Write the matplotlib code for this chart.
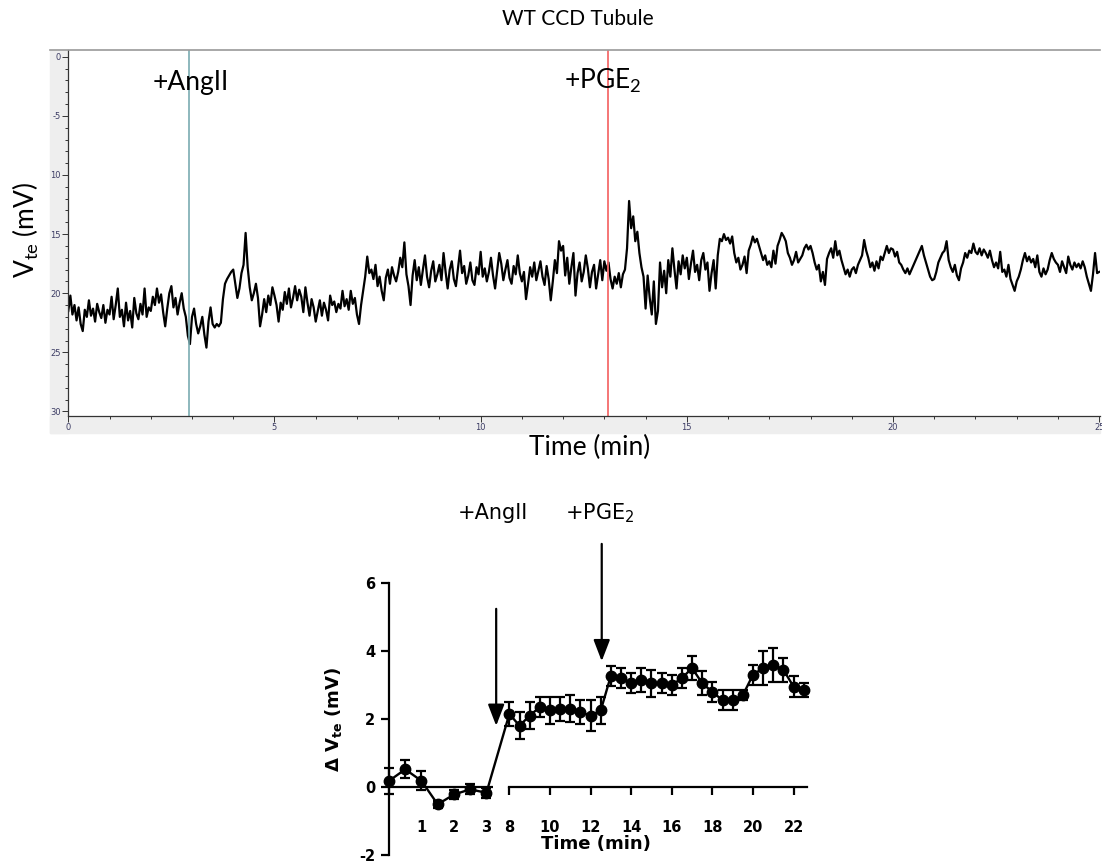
import numpy as np
import matplotlib.pyplot as plt
from matplotlib.lines import Line2D
from matplotlib.patches import Rectangle
from matplotlib.ticker import MultipleLocator

plt.rcParams['mathtext.default'] = 'regular'
plt.rcParams['axes.unicode_minus'] = False

W, H = 1102, 863

# ---- top trace: Vte (mV), 20 samples per minute ----
trace_mv = [
    21.5, 20.2, 21.8, 21.0, 22.3, 21.2, 22.6, 23.2, 21.4, 22.0, 20.6, 21.9, 21.3, 22.4, 20.9, 21.6, 22.1, 21.0, 22.5, 21.4,
    21.8, 20.3, 22.2, 21.0, 19.6, 22.0, 21.4, 22.8, 20.8, 22.3, 21.5, 22.9, 20.4, 21.7, 22.2, 20.9, 21.8, 19.6, 22.0, 21.2,
    21.5, 20.3, 21.0, 19.6, 20.8, 20.1, 21.6, 22.8, 21.3, 20.0, 19.4, 21.2, 20.4, 21.8, 20.8, 20.0, 21.3, 22.0, 23.6, 24.3,
    22.0, 21.3, 22.6, 23.4, 22.8, 22.0, 23.5, 24.6, 22.4, 21.2, 22.6, 22.9, 22.6, 22.8, 22.5, 20.5, 19.2, 18.8, 18.5, 18.2,
    18.0, 19.2, 20.4, 19.6, 18.3, 17.6, 14.9, 17.8, 19.5, 20.6, 20.0, 19.2, 20.4, 22.8, 21.8, 20.5, 21.6, 20.2, 21.0, 19.5,
    20.2, 21.0, 22.4, 20.8, 21.4, 19.9, 20.9, 19.6, 21.2, 20.4, 19.4, 20.6, 19.7, 20.3, 21.6, 19.5, 20.8, 21.9, 20.5, 21.2,
    22.4, 21.5, 20.6, 21.9, 20.8, 21.4, 22.3, 20.2, 21.0, 20.7, 21.6, 20.9, 21.3, 19.8, 21.1, 20.5, 21.4, 19.8, 20.9, 20.4,
    21.8, 22.6, 21.0, 19.8, 18.6, 16.9, 18.3, 18.0, 18.8, 17.6, 19.4, 18.6, 19.8, 20.6, 18.7, 18.0, 19.2, 17.8, 18.5, 19.0,
    18.2, 17.0, 17.8, 15.7, 18.4, 19.4, 21.0, 18.5, 17.2, 18.9, 17.8, 19.3, 18.0, 16.8, 18.6, 19.5, 18.1, 17.3, 19.0, 18.4,
    17.6, 18.9, 16.6, 18.2, 19.6, 18.0, 17.3, 18.8, 19.4, 17.9, 16.4, 18.3, 17.7, 19.2, 18.5, 17.4, 18.9, 19.3, 17.8, 18.4,
    16.5, 18.6, 17.9, 19.0, 18.2, 17.0, 18.5, 19.6, 18.1, 16.6, 17.5, 18.9, 18.0, 17.2, 18.7, 19.2, 17.7, 18.4, 16.8, 18.3,
    19.0, 18.2, 20.5, 19.2, 17.8, 18.6, 17.4, 18.9, 18.1, 17.3, 18.6, 19.3, 17.7, 18.8, 20.6, 19.0, 17.2, 18.3, 15.6, 16.4,
    16.0, 18.5, 17.0, 19.2, 17.8, 16.6, 20.2, 18.3, 17.4, 19.0, 18.2, 16.8, 17.9, 19.5, 18.2, 17.6, 19.6, 18.4, 17.2, 18.9,
    17.3, 18.1, 17.4, 18.8, 19.6, 18.6, 19.2, 18.3, 19.5, 18.4, 18.0, 16.2, 12.2, 14.5, 13.5, 15.6, 14.8, 16.6, 17.8, 18.6,
    21.3, 18.5, 20.4, 21.8, 19.0, 22.6, 21.5, 17.4, 19.5, 18.1, 20.0, 17.2, 18.6, 16.2, 18.0, 19.6, 17.3, 18.4, 16.8, 17.9,
    17.0, 18.8, 17.5, 16.4, 18.2, 17.6, 18.9, 17.2, 16.6, 18.0, 17.4, 19.8, 18.3, 17.2, 19.6, 16.8, 15.4, 15.6, 15.0, 15.5,
    15.3, 15.8, 15.2, 16.6, 17.4, 17.0, 18.0, 17.6, 16.9, 18.3, 16.4, 15.9, 15.2, 15.7, 15.4, 16.0, 16.6, 17.2, 16.8, 17.6,
    17.3, 17.8, 16.4, 17.5, 16.0, 15.5, 14.9, 15.2, 15.6, 16.6, 17.0, 17.6, 17.2, 16.5, 17.4, 17.1, 16.8, 16.2, 15.9, 16.3,
    16.0, 16.6, 17.4, 18.0, 17.6, 19.0, 18.2, 19.3, 17.1, 16.6, 16.2, 17.0, 15.6, 16.8, 16.4, 17.2, 17.8, 18.4, 18.0, 18.6,
    18.0, 17.8, 18.3, 17.6, 17.2, 16.8, 15.5, 16.4, 17.0, 17.8, 17.4, 18.1, 17.3, 17.9, 16.9, 17.2, 16.6, 16.0, 16.6, 16.2,
    16.3, 16.9, 16.5, 17.4, 17.6, 18.0, 18.3, 17.9, 18.4, 18.0, 17.6, 17.2, 16.8, 16.4, 16.0, 16.8, 17.4, 18.0, 18.6, 18.9,
    18.8, 18.2, 17.4, 17.0, 16.6, 16.4, 15.6, 17.2, 17.8, 18.2, 17.6, 18.5, 18.9, 17.9, 17.4, 16.6, 17.0, 16.4, 16.6, 15.8,
    16.5, 16.7, 16.2, 16.8, 16.3, 16.6, 17.0, 16.4, 17.2, 17.8, 17.4, 17.9, 16.5, 18.2, 18.0, 18.6, 17.6, 18.8, 19.3, 19.8,
    19.0, 18.6, 18.0, 17.2, 16.6, 17.3, 16.9, 17.4, 17.1, 17.8, 16.8, 18.2, 18.6, 17.9, 18.4, 18.0, 17.2, 16.6, 17.1, 17.4,
    17.6, 18.2, 17.3, 17.8, 18.3, 16.9, 17.6, 18.0, 17.4, 17.8, 17.5, 17.9, 17.3, 17.8, 18.6, 19.2, 19.8, 18.4, 16.6, 18.3,
    18.2,
]
trace_t = np.arange(len(trace_mv)) * 0.05

angii_t = 2.93
pge2_t = 13.09

top_yticks = [0, 5, 10, 15, 20, 25, 30]
top_ylabels = ['0', '-5', '10', '15', '20', '25', '30']
top_xticks = [0, 5, 10, 15, 20, 25]

# ---- bottom summary: mean delta Vte and SEM ----
sum_t = [0, 0.5, 1, 1.5, 2, 2.5, 3,
         8, 8.5, 9, 9.5, 10, 10.5, 11, 11.5, 12, 12.5,
         13, 13.5, 14, 14.5, 15, 15.5, 16, 16.5, 17, 17.5,
         18, 18.5, 19, 19.5, 20, 20.5, 21, 21.5, 22, 22.5]
sum_dv = [0.18, 0.52, 0.18, -0.51, -0.22, -0.07, -0.17,
          2.15, 1.8, 2.1, 2.35, 2.25, 2.3, 2.3, 2.2, 2.1, 2.25,
          3.27, 3.2, 3.05, 3.15, 3.05, 3.05, 3.0, 3.2, 3.5, 3.05,
          2.8, 2.55, 2.55, 2.7, 3.3, 3.5, 3.6, 3.45, 2.95, 2.85]
sum_err = [0.38, 0.26, 0.28, 0.1, 0.12, 0.15, 0.15,
           0.35, 0.4, 0.4, 0.3, 0.4, 0.35, 0.4, 0.35, 0.45, 0.4,
           0.3, 0.3, 0.3, 0.35, 0.4, 0.3, 0.3, 0.3, 0.35, 0.35,
           0.3, 0.3, 0.3, 0.15, 0.3, 0.5, 0.5, 0.35, 0.3, 0.2]
bot_xticks = [1, 2, 3, 8, 10, 12, 14, 16, 18, 20, 22]
bot_yticks = [-2, 0, 2, 4, 6]


def fwd(t):
    t = np.asarray(t, dtype=float)
    return np.where(t <= 3.3, 1.6 * t,
                    np.where(t < 8, 5.28 + (t - 3.3) * 0.65 / 4.7, 5.93 + (t - 8)))


def inv(u):
    u = np.asarray(u, dtype=float)
    return np.where(u <= 5.28, u / 1.6,
                    np.where(u < 5.93, 3.3 + (u - 5.28) * 4.7 / 0.65, 8 + (u - 5.93)))


fig = plt.figure(figsize=(W / 100, H / 100), dpi=100)

# gray tick strips of the recording software
fig.add_artist(Rectangle((50 / W, 1 - 433 / H), 1050 / W, 17.4 / H,
                         transform=fig.transFigure, color='#eeeeee', zorder=-1))
fig.add_artist(Rectangle((50 / W, 1 - 433 / H), 18.3 / W, 383 / H,
                         transform=fig.transFigure, color='#eeeeee', zorder=-1))
fig.add_artist(Line2D([50 / W, 1100 / W], [1 - 50 / H, 1 - 50 / H],
                      transform=fig.transFigure, color='#9a9a9a', lw=1.2))

ax1 = fig.add_axes([68.3 / W, 1 - 415.6 / H, (1100 - 68.3) / W, (415.6 - 50) / H])
ax1.plot(trace_t, trace_mv, color='black', lw=1.6)
ax1.axvline(angii_t, color='#7aacb2', lw=1.2)
ax1.axvline(pge2_t, color='#f46b6b', lw=1.3)
ax1.set_xlim(0, 25.02)
ax1.set_ylim(30.35, -0.57)
ax1.set_xticks(top_xticks)
ax1.set_yticks(top_yticks)
ax1.set_yticklabels(top_ylabels)
ax1.xaxis.set_minor_locator(MultipleLocator(1))
ax1.yaxis.set_minor_locator(MultipleLocator(1))
ax1.tick_params(which='both', labelsize=6, labelcolor='#3c3c64', color='#333333',
                width=0.7, pad=1.5)
ax1.tick_params(which='major', length=4)
ax1.tick_params(which='minor', length=2.5)
ax1.spines['top'].set_visible(False)
ax1.spines['right'].set_visible(False)
for s in ('left', 'bottom'):
    ax1.spines[s].set_color('#333333')
    ax1.spines[s].set_linewidth(0.9)

top_font = 'Lato'
fig.text(578 / W, 1 - 19 / H, 'WT CCD Tubule', ha='center', va='center',
         fontsize=15, family=top_font)
fig.text(590 / W, 1 - 447 / H, 'Time (min)', ha='center', va='center',
         fontsize=19, family=top_font)
fig.text(26 / W, 1 - 230 / H, 'V$_{te}$ (mV)', ha='center', va='center',
         rotation=90, fontsize=19, family=top_font)
fig.text(152.7 / W, 1 - 90 / H, '+AngII', ha='left', va='baseline',
         fontsize=19, family=top_font)
fig.text(564 / W, 1 - 89 / H, '+PGE$_2$', ha='left', va='baseline',
         fontsize=19, family=top_font)

# ---- bottom panel ----
ax2 = fig.add_axes([382.5 / W, 1 - 858.4 / H, 427.3 / W, 278.8 / H])
ax2.set_xscale('function', functions=(fwd, inv))
ax2.set_xlim(-0.2, 22.8)
ax2.set_ylim(-2.1, 6.1)

ax2.errorbar(sum_t, sum_dv, yerr=sum_err, fmt='o-', color='black', lw=1.7,
             ms=7.5, elinewidth=1.6, capsize=3.8, capthick=1.6, zorder=3)
ax2.plot([0, 3.2], [0, 0], color='black', lw=1.6, solid_capstyle='butt')

ax2.spines['top'].set_visible(False)
ax2.spines['right'].set_visible(False)
ax2.spines['left'].set_position(('data', 0))
ax2.spines['left'].set_bounds(-2, 6)
ax2.spines['bottom'].set_position(('data', 0))
ax2.spines['bottom'].set_bounds(8, 22.65)
for s in ('left', 'bottom'):
    ax2.spines[s].set_linewidth(1.6)

ax2.set_xticks(bot_xticks)
ax2.set_xticklabels([str(v) for v in bot_xticks])
ax2.set_yticks(bot_yticks)
ax2.tick_params(axis='both', direction='out', length=6, width=1.6, labelsize=10.5)
ax2.tick_params(axis='x', pad=18)
ax2.tick_params(axis='y', pad=4)
for lab in ax2.get_xticklabels() + ax2.get_yticklabels():
    lab.set_fontweight('bold')
for tk in ax2.xaxis.get_major_ticks()[:3]:
    tk.tick1line.set_markersize(0)

ax2.set_xlabel('Time (min)', fontsize=13, fontweight='bold', labelpad=0)
ax2.set_ylabel('Δ V$_{te}$ (mV)', fontsize=13, fontweight='bold', labelpad=11)

head = dict(arrowstyle='-|>,head_length=0.65,head_width=0.25', color='black',
            lw=1.6, shrinkA=0, shrinkB=0, mutation_scale=20)
ax2.annotate('', xy=(3.3, 1.8), xytext=(3.3, 5.24), arrowprops=head)
ax2.annotate('', xy=(12.55, 3.7), xytext=(12.55, 7.15), arrowprops=head,
             annotation_clip=False)
ax2.text(3.2, 8.06, '+AngII', ha='center', va='center', fontsize=15)
ax2.text(12.46, 8.06, '+PGE$_2$', ha='center', va='center', fontsize=15)

fig.savefig('out.png', dpi=100)
